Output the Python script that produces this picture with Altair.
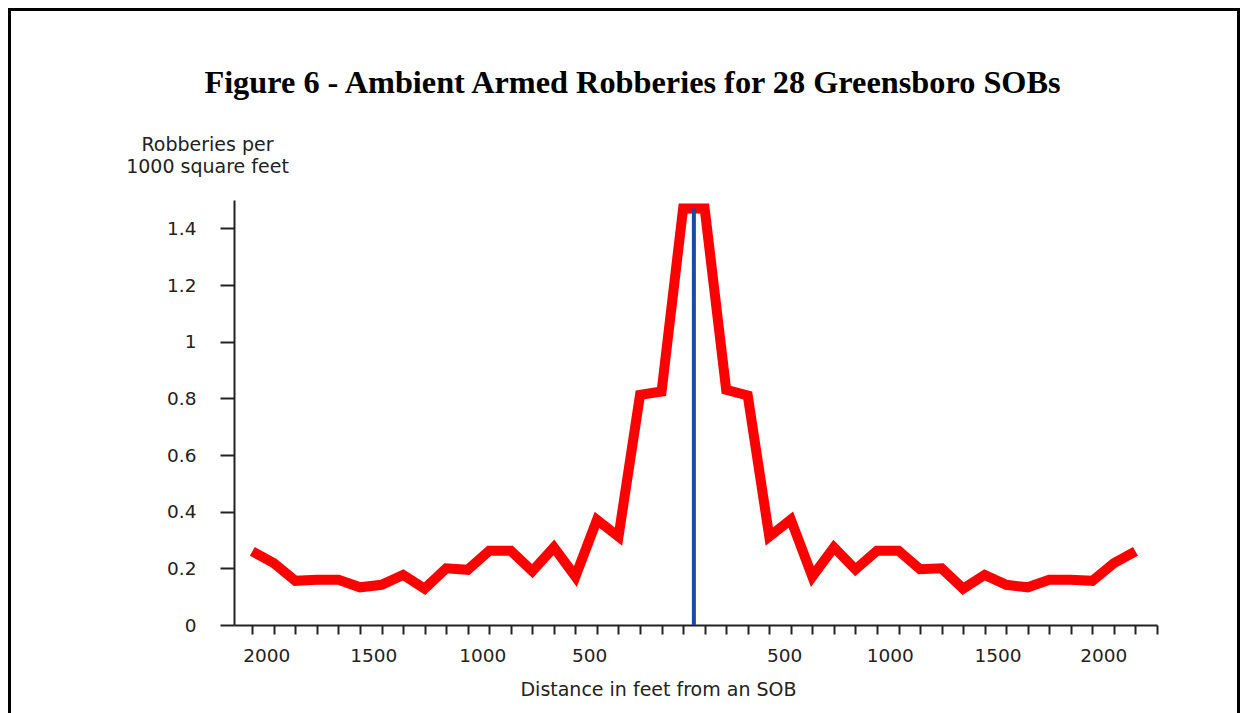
import altair as alt
import pandas as pd

# Distance bins (feet from an SOB; negative = one side, positive = other side)
distance = [-2050, -1950, -1850, -1750, -1650, -1550, -1450, -1350, -1250, -1150,
            -1050, -950, -850, -750, -650, -550, -450, -350, -250, -150, -50,
            50, 150, 250, 350, 450, 550, 650, 750, 850, 950,
            1050, 1150, 1250, 1350, 1450, 1550, 1650, 1750, 1850, 1950, 2050]
robberies = [0.26, 0.218, 0.156, 0.16, 0.16, 0.133, 0.142, 0.177, 0.128, 0.20,
             0.195, 0.262, 0.262, 0.19, 0.274, 0.171, 0.371, 0.312, 0.812, 0.824, 1.47,
             1.47, 0.83, 0.81, 0.312, 0.372, 0.171, 0.274, 0.196, 0.262, 0.262,
             0.197, 0.20, 0.128, 0.177, 0.142, 0.133, 0.16, 0.16, 0.156, 0.218, 0.26]

# SOB marker
marker_x = [0]
marker_top = [1.47]

# Axis ticks and labels
tick_values = list(range(-2050, 2151, 100))
label_positions = [-1983, -1486, -980, -484, 421, 912, 1412, 1903]
label_texts = ["2000", "1500", "1000", "500", "500", "1000", "1500", "2000"]
y_ticks = [0, 0.2, 0.4, 0.6, 0.8, 1.0, 1.2, 1.4]

title_text = "Figure 6 - Ambient Armed Robberies for 28 Greensboro SOBs"
y_title = ["Robberies per", "1000 square feet"]
x_title = "Distance in feet from an SOB"

df = pd.DataFrame({"distance": distance, "robberies": robberies})
mk = pd.DataFrame({"x": marker_x, "top": marker_top, "zero": [0]})
lab = pd.DataFrame({"pos": label_positions, "text": label_texts})

W, H = 923, 425
PL, PT = 226, 192
TOTAL_W, TOTAL_H = 1232, 705
INK = "#222222"

x_scale = alt.Scale(domain=[-2135, 2150], nice=False, zero=False)
y_scale = alt.Scale(domain=[0, 1.5], nice=False)

x_axis = alt.Axis(
    values=tick_values, tickCount=200, labels=False,
    tickSize=9, tickWidth=2, tickColor=INK,
    domainColor=INK, domainWidth=2, grid=False,
    title=x_title, titleFont="DejaVu Sans", titleFontSize=19, titleFontWeight="normal",
    titleColor=INK, titleX=424, titleAlign="center", titleBaseline="top", titlePadding=45,
)
y_axis = alt.Axis(
    values=y_ticks, format=".1~f",
    tickSize=14, tickWidth=2, tickColor=INK,
    domainColor=INK, domainWidth=2,
    labelFont="DejaVu Sans", labelFontSize=18.5, labelColor=INK,
    labelPadding=24, grid=False,
    title=y_title, titleFont="DejaVu Sans", titleFontSize=19, titleFontWeight="normal",
    titleColor=INK, titleAngle=0, titleAlign="center", titleBaseline="bottom",
    titleX=-27, titleY=-46, titleLineHeight=22,
)

line = alt.Chart(df).mark_line(color="#ff0000", strokeWidth=10, strokeJoin="miter").encode(
    x=alt.X("distance:Q", scale=x_scale, axis=x_axis),
    y=alt.Y("robberies:Q", scale=y_scale, axis=y_axis),
)

marker = alt.Chart(mk).mark_rule(color="#1a4aa8", strokeWidth=4).encode(
    x=alt.X("x:Q", scale=x_scale),
    y=alt.Y("zero:Q", scale=y_scale),
    y2="top:Q",
)

xlabels = alt.Chart(lab).mark_text(
    font="DejaVu Sans", fontSize=18.5, color=INK, baseline="middle", align="center"
).encode(
    x=alt.X("pos:Q", scale=x_scale),
    y=alt.value(H + 31),
    text="text:N",
)

one = pd.DataFrame({"a": [0]})
frame_left = alt.Chart(one).mark_rule(color="black", strokeWidth=3).encode(
    x=alt.value(-PL + 1.5), y=alt.value(-PT), y2=alt.value(TOTAL_H - PT)
)
frame_top = alt.Chart(one).mark_rule(color="black", strokeWidth=3).encode(
    x=alt.value(-PL), x2=alt.value(TOTAL_W - PL), y=alt.value(-PT + 1.5)
)
frame_right = alt.Chart(one).mark_rule(color="black", strokeWidth=3).encode(
    x=alt.value(TOTAL_W - 1.5 - PL), y=alt.value(-PT), y2=alt.value(TOTAL_H - PT)
)

chart = alt.layer(line, marker, xlabels, frame_left, frame_top, frame_right).properties(
    width=W, height=H,
    title=alt.TitleParams(
        text=title_text, font="Liberation Serif", fontSize=32.3, fontWeight="bold",
        color="black", anchor="middle", dx=-63, offset=0, baseline="alphabetic", dy=119,
    ),
    autosize=alt.AutoSizeParams(type="none"),
    padding={"left": PL, "top": PT, "right": TOTAL_W - PL - W, "bottom": TOTAL_H - PT - H},
).configure(background="white", view=alt.ViewConfig(strokeWidth=0, stroke="transparent"))

chart.save("out.html", embed_options={"renderer": "svg", "actions": False})
